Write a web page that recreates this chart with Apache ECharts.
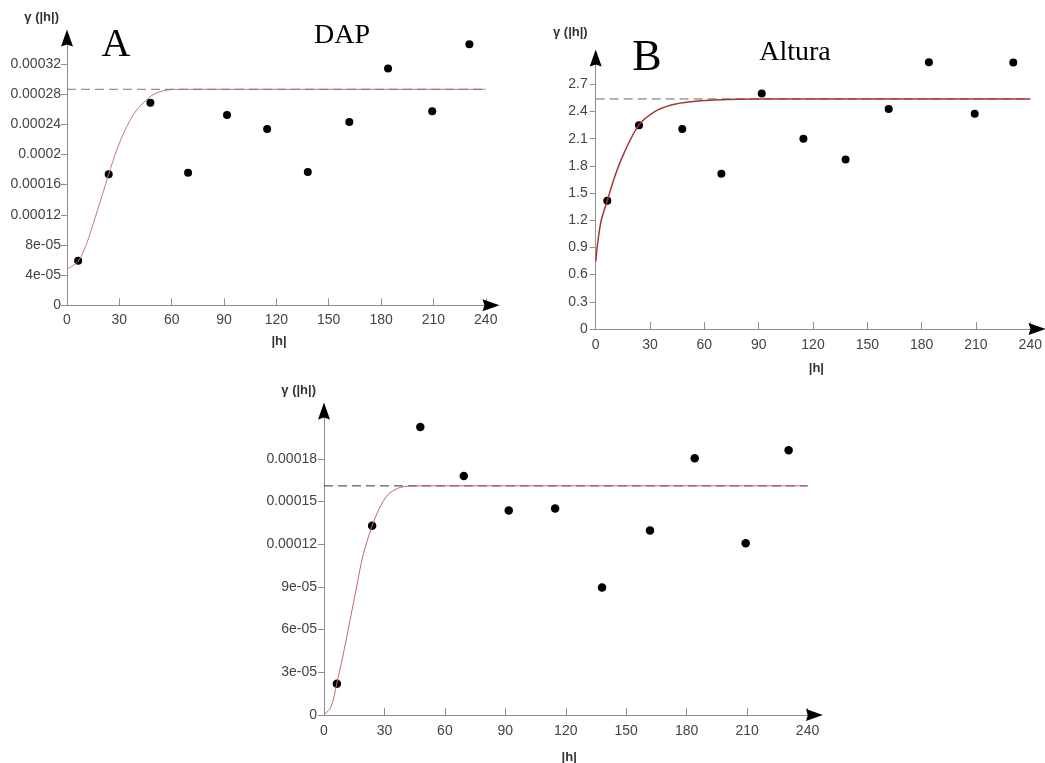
<!DOCTYPE html>
<html>
<head>
<meta charset="utf-8">
<script src="https://cdn.jsdelivr.net/npm/echarts@6/dist/echarts.min.js"></script>
<style>
  html, body { margin: 0; padding: 0; background: #fff; }
  #chart { width: 1045px; height: 763px; }
</style>
</head>
<body>
<div id="chart"></div>
<script>
// lags (|h|) shared by the three experimental semivariograms
var lags = [6.4, 23.9, 47.8, 69.4, 91.7, 114.7, 138.0, 161.8, 184.0, 209.3, 230.6];

// A - DAP
var dapGamma = [5.92e-5, 1.737e-4, 2.687e-4, 1.759e-4, 2.524e-4, 2.338e-4, 1.768e-4, 2.431e-4, 3.138e-4, 2.572e-4, 3.461e-4];
var dapModelH = [0, 6.5, 11.3, 15.1, 19.9, 23.9, 28.5, 34.2, 39.9, 47.6, 53.3, 60.9, 75, 240];
var dapModelG = [4.77e-5, 5.87e-5, 8.22e-5, 1.087e-4, 1.44e-4, 1.737e-4, 2.059e-4, 2.368e-4, 2.589e-4, 2.766e-4, 2.832e-4, 2.862e-4, 2.864e-4, 2.864e-4];
var dapSill = 2.864e-4;

// B - Altura
var altGamma = [1.416, 2.247, 2.207, 1.714, 2.597, 2.100, 1.869, 2.428, 2.943, 2.376, 2.939];
var altModelH = [0, 1.3, 3.1, 6.4, 10.5, 16.0, 23.7, 32.6, 41.7, 51.0, 65.7, 90, 240];
var altModelG = [0.743, 0.982, 1.203, 1.416, 1.681, 1.957, 2.247, 2.398, 2.471, 2.505, 2.527, 2.538, 2.538];
var altSill = 2.538;

// C - bottom panel
var cGamma = [2.2e-5, 1.329e-4, 2.024e-4, 1.680e-4, 1.437e-4, 1.451e-4, 8.96e-5, 1.296e-4, 1.804e-4, 1.207e-4, 1.860e-4];
var cModelH = [0, 3.5, 6.3, 9.3, 12.6, 15.9, 19.2, 23.8, 27.5, 31.6, 36.6, 42.3, 55, 240];
var cModelG = [0, 5.8e-6, 2.18e-5, 4.1e-5, 6.44e-5, 8.78e-5, 1.112e-4, 1.326e-4, 1.452e-4, 1.546e-4, 1.593e-4, 1.608e-4, 1.61e-4, 1.61e-4];
var cSill = 1.61e-4;

var sillRange = [0, 240];

// tick values / labels
var xTicks = [0, 30, 60, 90, 120, 150, 180, 210, 240];
var xLabels = ['0', '30', '60', '90', '120', '150', '180', '210', '240'];
var yTicksA = [0, 4e-5, 8e-5, 1.2e-4, 1.6e-4, 2e-4, 2.4e-4, 2.8e-4, 3.2e-4];
var yLabelsA = ['0', '4e-05', '8e-05', '0.00012', '0.00016', '0.0002', '0.00024', '0.00028', '0.00032'];
var yTicksB = [0, 0.3, 0.6, 0.9, 1.2, 1.5, 1.8, 2.1, 2.4, 2.7];
var yLabelsB = ['0', '0.3', '0.6', '0.9', '1.2', '1.5', '1.8', '2.1', '2.4', '2.7'];
var yTicksC = [0, 3e-5, 6e-5, 9e-5, 1.2e-4, 1.5e-4, 1.8e-4];
var yLabelsC = ['0', '3e-05', '6e-05', '9e-05', '0.00012', '0.00015', '0.00018'];

var pair = function (xs, ys) { return xs.map(function (x, i) { return [x, ys[i]]; }); };

var fmt = function (vals, labels) {
    return function (v) {
        var best = 0;
        for (var i = 1; i < vals.length; i++) {
            if (Math.abs(vals[i] - v) < Math.abs(vals[best] - v)) best = i;
        }
        return labels[best];
    };
};

var axisGrey = '#8f8f8f';
var labelFont = { color: '#444', fontSize: 14, fontFamily: 'Liberation Sans, Arial, sans-serif' };
var nameFont = { color: '#333', fontSize: 13, fontWeight: 'bold', fontFamily: 'Liberation Sans, Arial, sans-serif' };
var arrowPath = 'path://M6,0L12,17L6,15L0,17Z';

function xMain(grid, max, gap, margin) {
    return {
        type: 'value', gridIndex: grid, min: 0, max: max, position: 'bottom',
        name: '|h|', nameLocation: 'middle', nameGap: gap, nameTextStyle: nameFont,
        axisLine: { onZero: false, lineStyle: { color: axisGrey, width: 1 } },
        axisTick: { inside: true, length: 7, lineStyle: { color: axisGrey }, customValues: xTicks.slice(1) },
        axisLabel: Object.assign({ margin: margin, customValues: xTicks, formatter: fmt(xTicks, xLabels) }, labelFont),
        splitLine: { show: false }
    };
}
function yMain(grid, max, ticks, labels, gap, margin) {
    return {
        type: 'value', gridIndex: grid, min: 0, max: max, position: 'left',
        name: 'γ (|h|)', nameLocation: 'end', nameGap: gap,
        nameTextStyle: Object.assign({ align: 'right', verticalAlign: 'bottom', padding: [0, 8, 0, 0] }, nameFont),
        axisLine: { onZero: false, lineStyle: { color: axisGrey, width: 1 } },
        axisTick: { inside: false, length: 6, lineStyle: { color: axisGrey }, customValues: ticks },
        axisLabel: Object.assign({ margin: margin, customValues: ticks, formatter: fmt(ticks, labels) }, labelFont),
        splitLine: { show: false }
    };
}
// overlay axes that only draw the black arrow heads
function arrowAxis(grid, max, pos) {
    return {
        type: 'value', gridIndex: grid, min: 0, max: max, position: pos,
        axisLine: { show: true, onZero: false, symbol: ['none', arrowPath], symbolSize: [12, 17], lineStyle: { color: '#000', width: 0 } },
        axisTick: { show: false }, axisLabel: { show: false }, splitLine: { show: false }
    };
}

var xMax = [243, 243.7, 243.4];
var yMax = [3.544e-4, 2.99, 2.136e-4];

var chart = echarts.init(document.getElementById('chart'));

chart.setOption({
    animation: false,
    backgroundColor: '#fff',
    grid: [
        { left: 67, top: 38, width: 424, height: 267.3, outerBoundsMode: 'none' },
        { left: 595.7, top: 58, width: 441.3, height: 271, outerBoundsMode: 'none' },
        { left: 324, top: 411, width: 490.4, height: 304, outerBoundsMode: 'none' }
    ],
    xAxis: [
        xMain(0, xMax[0], 30, 8), xMain(1, xMax[1], 33, 9), xMain(2, xMax[2], 36, 9),
        arrowAxis(0, xMax[0], 'bottom'), arrowAxis(1, xMax[1], 'bottom'), arrowAxis(2, xMax[2], 'bottom')
    ],
    yAxis: [
        yMain(0, yMax[0], yTicksA, yLabelsA, 14, 6),
        yMain(1, yMax[1], yTicksB, yLabelsB, 19, 8),
        yMain(2, yMax[2], yTicksC, yLabelsC, 14, 7),
        arrowAxis(0, yMax[0], 'left'), arrowAxis(1, yMax[1], 'left'), arrowAxis(2, yMax[2], 'left')
    ],
    graphic: [
        { type: 'text', style: { text: 'A', x: 116, y: 45, align: 'center', verticalAlign: 'middle', font: '40px "Liberation Serif", "Times New Roman", serif', fill: '#000' } },
        { type: 'text', style: { text: 'DAP', x: 342, y: 36, align: 'center', verticalAlign: 'middle', font: '28px "Liberation Serif", "Times New Roman", serif', fill: '#000' } },
        { type: 'text', style: { text: 'B', x: 647, y: 58, align: 'center', verticalAlign: 'middle', font: '44px "Liberation Serif", "Times New Roman", serif', fill: '#000' } },
        { type: 'text', style: { text: 'Altura', x: 795, y: 53, align: 'center', verticalAlign: 'middle', font: '28px "Liberation Serif", "Times New Roman", serif', fill: '#000' } }
    ],
    series: [
        // A
        { type: 'line', xAxisIndex: 0, yAxisIndex: 0, data: pair(dapModelH, dapModelG), smooth: 0.3, showSymbol: false, lineStyle: { color: '#c87878', width: 1 } },
        { type: 'line', xAxisIndex: 0, yAxisIndex: 0, data: pair(sillRange, [dapSill, dapSill]), showSymbol: false, lineStyle: { color: '#777', width: 1, type: [9, 5] } },
        { type: 'scatter', xAxisIndex: 0, yAxisIndex: 0, data: pair(lags, dapGamma), symbolSize: 8, itemStyle: { color: '#000', opacity: 1 } },
        // B
        { type: 'line', xAxisIndex: 1, yAxisIndex: 1, data: pair(sillRange, [altSill, altSill]), showSymbol: false, lineStyle: { color: '#666', width: 1, type: [9, 5] } },
        { type: 'line', xAxisIndex: 1, yAxisIndex: 1, data: pair(altModelH, altModelG), smooth: 0.3, showSymbol: false, lineStyle: { color: '#a83535', width: 1.5 } },
        { type: 'scatter', xAxisIndex: 1, yAxisIndex: 1, data: pair(lags, altGamma), symbolSize: 8, itemStyle: { color: '#000', opacity: 1 } },
        // C
        { type: 'line', xAxisIndex: 2, yAxisIndex: 2, data: pair(sillRange, [cSill, cSill]), showSymbol: false, lineStyle: { color: '#333', width: 1, type: [9, 5] } },
        { type: 'line', xAxisIndex: 2, yAxisIndex: 2, data: pair(cModelH, cModelG), smooth: 0.3, showSymbol: false, lineStyle: { color: '#c86464', width: 1 } },
        { type: 'scatter', xAxisIndex: 2, yAxisIndex: 2, data: pair(lags, cGamma), symbolSize: 8.5, itemStyle: { color: '#000', opacity: 1 } }
    ]
});
</script>
</body>
</html>
